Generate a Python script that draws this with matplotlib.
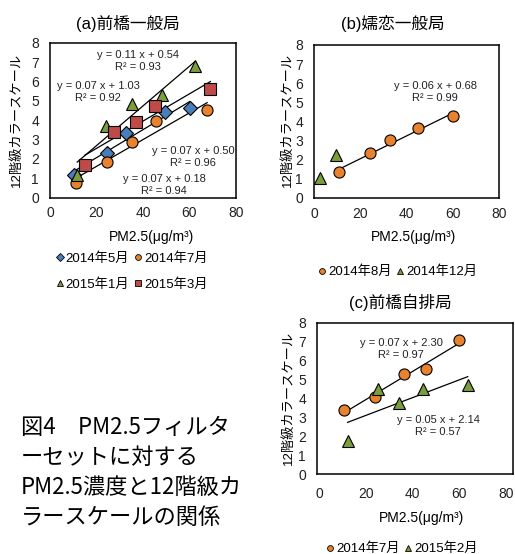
import numpy as np
import matplotlib
matplotlib.use('Agg')
import matplotlib.pyplot as plt
from matplotlib.lines import Line2D

plt.rcParams['font.family'] = ['Liberation Sans', 'Noto Sans CJK JP']

W, H = 515, 554

# (a) 前橋一般局
a_may_x = [10.3, 24.6, 32.9, 49.3, 60.0]
a_may_y = [1.18, 2.30, 3.36, 4.42, 4.64]
a_jul_x = [11.1, 24.6, 35.1, 45.7, 67.6]
a_jul_y = [0.75, 1.83, 2.85, 3.94, 4.52]
a_jan_x = [11.7, 24.0, 35.4, 48.1, 62.4]
a_jan_y = [1.14, 3.70, 4.85, 5.32, 6.81]
a_mar_x = [15.0, 27.6, 36.9, 45.0, 69.0]
a_mar_y = [1.66, 3.40, 3.90, 4.73, 5.63]

# (b) 嬬恋一般局
b_aug_x = [10.8, 24.4, 33.0, 45.1, 60.2]
b_aug_y = [1.33, 2.32, 3.01, 3.62, 4.28]
b_dec_x = [2.4, 9.6]
b_dec_y = [1.04, 2.23]

# (c) 前橋自排局
c_jul_x = [10.7, 23.8, 36.3, 45.8, 60.0]
c_jul_y = [3.37, 4.10, 5.31, 5.54, 7.12]
c_feb_x = [12.1, 25.2, 34.1, 44.4, 63.6]
c_feb_y = [1.76, 4.52, 3.78, 4.52, 4.69]

BLUE = '#4A7EBB'
ORANGE = '#E8822F'
GREEN = '#7A9E3A'
RED = '#BE4B48'

fig = plt.figure(figsize=(W / 100, H / 100), dpi=100)


def add_ax(l, t, r, b, xlim, xpad, ypad):
    ax = fig.add_axes([l / W, 1 - b / H, (r - l) / W, (b - t) / H])
    ax.set_xlim(*xlim)
    ax.set_ylim(0, 8)
    ax.set_xticks([0, 20, 40, 60, 80])
    ax.set_yticks(range(0, 9))
    ax.tick_params(length=0, labelsize=10, colors='#222222')
    ax.tick_params(axis='x', pad=xpad)
    ax.tick_params(axis='y', pad=ypad)
    for s in ax.spines.values():
        s.set_linewidth(1.1)
        s.set_color('black')
    return ax


def series(ax, x, y, marker, color, ms):
    ax.plot(x, y, ls='none', marker=marker, ms=ms, mfc=color, mec='black',
            mew=0.8, zorder=3, clip_on=False)


def trend(ax, x, y):
    k, c = np.polyfit(x, y, 1)
    xs = np.array([min(x), max(x)])
    ax.plot(xs, k * xs + c, color='black', lw=0.9, zorder=2)


def ftext(px, py, s, **kw):
    fig.text(px / W, 1 - py / H, s, **kw)


def eq(px, py, s):
    ftext(px, py, s, ha='center', va='center', fontsize=8,
          multialignment='center', linespacing=1.25, color='#222222')


def legend(handles, labels, px, py, ncol):
    fig.legend(handles, labels, loc='center', bbox_to_anchor=(px / W, 1 - py / H),
               ncol=ncol, frameon=False, fontsize=9.5, handlelength=0.5,
               handletextpad=0.2, columnspacing=0.4, labelspacing=1.0,
               borderpad=0)


def mk(marker, color):
    return Line2D([], [], ls='none', marker=marker, ms=4.2, mfc=color,
                  mec='black', mew=0.6)


ylab = '12階級カラースケール'
xlab = 'PM2.5(μg/m³)'

# ---- (a)
ax = add_ax(50, 43, 236, 197.5, (0, 80), 6, 8)
for x, y in [(a_jan_x, a_jan_y), (a_mar_x, a_mar_y), (a_may_x, a_may_y), (a_jul_x, a_jul_y)]:
    trend(ax, x, y)
series(ax, a_may_x, a_may_y, 'D', BLUE, 7)
series(ax, a_jul_x, a_jul_y, 'o', ORANGE, 8)
series(ax, a_jan_x, a_jan_y, '^', GREEN, 9)
series(ax, a_mar_x, a_mar_y, 's', RED, 8)
ftext(128, 23, '(a)前橋一般局', ha='center', va='center', fontsize=12)
ftext(16, 120, ylab, ha='center', va='center', rotation=90, fontsize=9.5)
ftext(151, 237, xlab, ha='center', va='center', fontsize=10)
eq(138, 61, 'y = 0.11 x + 0.54\nR² = 0.93')
eq(98, 92, 'y = 0.07 x + 1.03\nR² = 0.92')
eq(193, 157.5, 'y = 0.07 x + 0.50\nR² = 0.96')
eq(164, 185.5, 'y = 0.07 x + 0.18\nR² = 0.94')
legend([mk('D', BLUE), mk('^', GREEN), mk('o', ORANGE), mk('s', RED)],
       ['2014年5月', '2015年1月', '2014年7月', '2015年3月'], 132, 271.5, 2)

# ---- (b)
ax = add_ax(314, 45, 499, 197.5, (0, 80), 7, 8)
trend(ax, b_aug_x, b_aug_y)
series(ax, b_aug_x, b_aug_y, 'o', ORANGE, 8)
series(ax, b_dec_x, b_dec_y, '^', GREEN, 9)
ftext(393, 23, '(b)嬬恋一般局', ha='center', va='center', fontsize=12)
ftext(287, 120, ylab, ha='center', va='center', rotation=90, fontsize=9.5)
ftext(414, 237, xlab, ha='center', va='center', fontsize=10)
eq(435, 92, 'y = 0.06 x + 0.68\nR² = 0.99')
legend([mk('o', ORANGE), mk('^', GREEN)], ['2014年8月', '2014年12月'], 398, 272, 2)

# ---- (c)
ax = add_ax(317, 323, 513, 474, (-1, 83), 9, 8)
trend(ax, c_jul_x, c_jul_y)
trend(ax, c_feb_x, c_feb_y)
series(ax, c_jul_x, c_jul_y, 'o', ORANGE, 8)
series(ax, c_feb_x, c_feb_y, '^', GREEN, 9)
ftext(400, 302, '(c)前橋自排局', ha='center', va='center', fontsize=12)
ftext(288, 398, ylab, ha='center', va='center', rotation=90, fontsize=9.5)
ftext(422, 518, xlab, ha='center', va='center', fontsize=10)
eq(401, 349.5, 'y = 0.07 x + 2.30\nR² = 0.97')
eq(438, 426, 'y = 0.05 x + 2.14\nR² = 0.57')
legend([mk('o', ORANGE), mk('^', GREEN)], ['2014年7月', '2015年2月'], 402, 549, 2)

# caption
caption = ['図4　PM2.5フィルタ', 'ーセットに対する', 'PM2.5濃度と12階級カ', 'ラースケールの関係']
for i, line in enumerate(caption):
    ftext(21, 427 + i * 30.3, line, ha='left', va='center', fontsize=16,
          family=['Noto Sans CJK JP'])

fig.savefig('out.png', dpi=100)
plt.close(fig)
